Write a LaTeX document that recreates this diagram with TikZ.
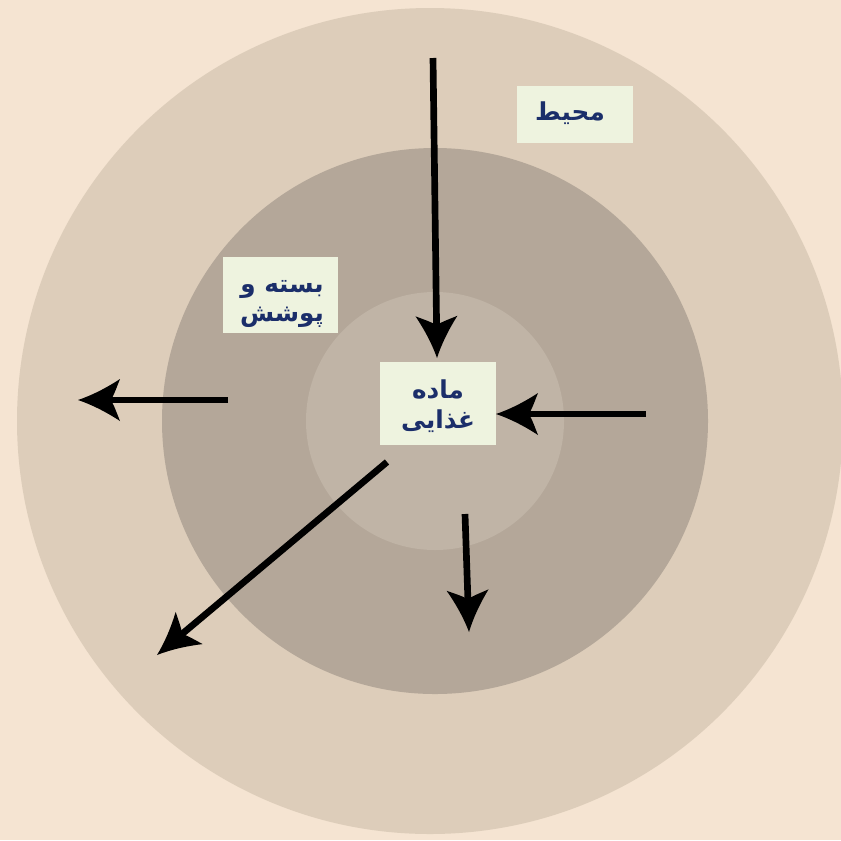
\documentclass[tikz,border=0pt]{standalone}
\usepackage{fontspec}
\TeXXeTstate=1
\newfontfamily\arabicfont[Script=Arabic]{DejaVu Sans}
\usetikzlibrary{arrows.meta}
\definecolor{bgc}{HTML}{F5E4D2}
\definecolor{outerc}{HTML}{DDCDBA}
\definecolor{midc}{HTML}{B4A799}
\definecolor{innerc}{HTML}{C0B4A6}
\definecolor{boxc}{HTML}{EEF3DF}
\definecolor{txtc}{HTML}{1B2E6A}
\pgfdeclarearrow{
  name = Barb,
  parameters = {\the\pgfarrowlength},
  setup code = {
    \pgfarrowssettipend{0pt}
    \pgfarrowssetlineend{-0.6\pgfarrowlength}
    \pgfarrowssetbackend{-\pgfarrowlength}
    \pgfarrowsupperhullpoint{0pt}{0pt}
    \pgfarrowsupperhullpoint{-\pgfarrowlength}{.5\pgfarrowlength}
    \pgfarrowssavethe\pgfarrowlength
  },
  drawing code = {
    \pgfpathmoveto{\pgfqpoint{0pt}{0pt}}
    \pgfpathcurveto{\pgfqpoint{-.3\pgfarrowlength}{.1\pgfarrowlength}}{\pgfqpoint{-.65\pgfarrowlength}{.27\pgfarrowlength}}{\pgfqpoint{-\pgfarrowlength}{.5\pgfarrowlength}}
    \pgfpathcurveto{\pgfqpoint{-.93\pgfarrowlength}{.33\pgfarrowlength}}{\pgfqpoint{-.86\pgfarrowlength}{.12\pgfarrowlength}}{\pgfqpoint{-.78\pgfarrowlength}{0pt}}
    \pgfpathcurveto{\pgfqpoint{-.86\pgfarrowlength}{-.12\pgfarrowlength}}{\pgfqpoint{-.93\pgfarrowlength}{-.33\pgfarrowlength}}{\pgfqpoint{-\pgfarrowlength}{-.5\pgfarrowlength}}
    \pgfpathcurveto{\pgfqpoint{-.65\pgfarrowlength}{-.27\pgfarrowlength}}{\pgfqpoint{-.3\pgfarrowlength}{-.1\pgfarrowlength}}{\pgfqpoint{0pt}{0pt}}
    \pgfpathclose
    \pgfusepathqfill
  },
  defaults = {length = 30pt}
}
\tikzset{
  lblbox/.style={fill=boxc, inner sep=0pt},
  lbltxt/.style={inner sep=0pt, text=txtc, align=center,
    font=\arabicfont\bfseries\fontsize{18.5}{23}\selectfont},
  flow/.style={line width=5pt, -{Barb[length=31.5pt]}}
}
\begin{document}
\begin{tikzpicture}[x=0.75pt,y=-0.75pt]
\useasboundingbox (0,0) rectangle (841,840);
\clip (0,0) rectangle (841,840);
\fill[bgc] (0,0) rectangle (841,840);
\fill[outerc] (430,421) circle (413);
\fill[midc] (435,421) circle (273);
\fill[innerc] (435,421) circle (129);
% label boxes
\node[lblbox, minimum width=87pt, minimum height=43pt] (env) at (575,114.5) {};
\node[lblbox, minimum width=86pt, minimum height=57pt] (pack) at (280.5,295) {};
\node[lblbox, minimum width=87pt, minimum height=62pt] (food) at (438,403.5) {};
% label texts
\node[lbltxt] (envt) at (570,113) {\beginR محیط\endR};
\node[lbltxt, font=\arabicfont\bfseries\fontsize{18.5}{21.5}\selectfont] (packt) at (282,304) {\beginR بسته و\endR\\\beginR پوشش\endR};
\node[lbltxt] (foodt) at (438,406) {\beginR ماده\endR\\\beginR غذایی\endR};
% arrow endpoints
\coordinate (a1s) at (433,58);
\coordinate (a1e) at (437,358);
\coordinate (a2s) at (228,400);
\coordinate (a2e) at (78,400);
\coordinate (a3s) at (646,414);
\coordinate (a3e) at (496,414);
\coordinate (a4s) at (387,462);
\coordinate (a4e) at (157,655);
\coordinate (a5s) at (465,514);
\coordinate (a5e) at (469,632);
\draw[flow] (a1s) -- (a1e);
\draw[flow] (a2s) -- (a2e);
\draw[flow] (a3s) -- (a3e);
\draw[flow] (a4s) -- (a4e);
\draw[flow] (a5s) -- (a5e);
\end{tikzpicture}
\end{document}
